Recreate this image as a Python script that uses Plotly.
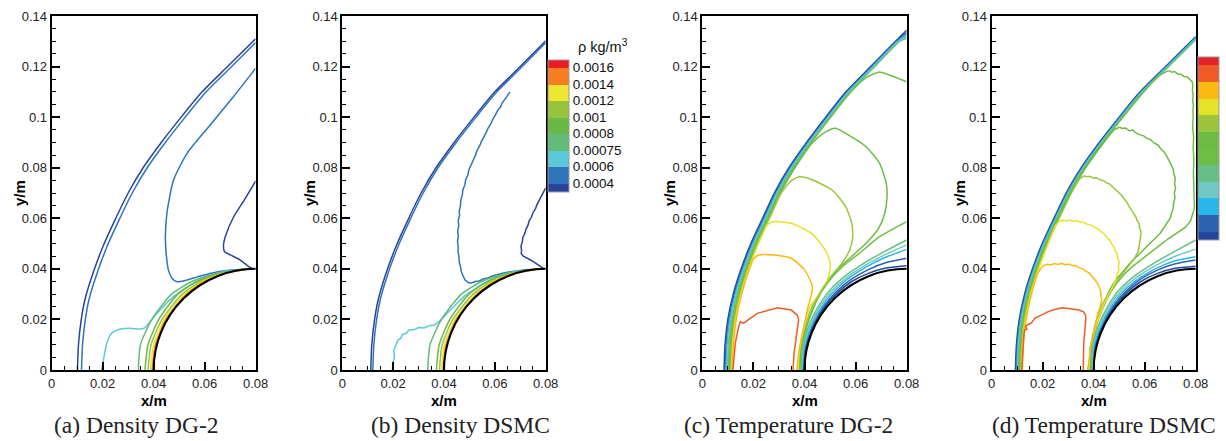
import plotly.graph_objects as go

W, H = 1226, 441

# ---------------- colour tables ----------------
den_levels = ['0.0004', '0.0006', '0.00075', '0.0008', '0.001', '0.0012', '0.0014', '0.0016']
den_colors = ['#2B449B', '#2E74BA', '#5BC9DA', '#62BB78', '#6AB845', '#97C43C', '#EFE633', '#F57F20', '#EC1C24']
tmp_colors = ['#2446A0', '#2D63AE', '#29B6E8', '#6FC8C5', '#66BF84', '#6EBE45',
              '#6CBB45', '#9BC53D', '#E5E22A', '#FDB913', '#F05A24', '#E8202A']

captions = ['(a) Density DG-2', '(b) Density DSMC', '(c) Temperature DG-2', '(d) Temperature DSMC']

# ---------------- contour lines ----------------
# Panel (a) density DG-2
a_shock1_x = [0.0101, 0.0105, 0.0116, 0.0130, 0.0168, 0.0206, 0.0248, 0.0300, 0.0358, 0.0430, 0.0508, 0.0590, 0.0690, 0.0800]
a_shock1_y = [0.000, 0.010, 0.020, 0.0277, 0.040, 0.050, 0.0593, 0.070, 0.0799, 0.090, 0.100, 0.110, 0.120, 0.1310]
a_shock2_x = [0.0117, 0.0121, 0.0132, 0.0146, 0.0184, 0.0222, 0.0264, 0.0316, 0.0374, 0.0446, 0.0524, 0.0606, 0.0706, 0.0800]
a_shock2_y = [0.000, 0.010, 0.020, 0.0277, 0.040, 0.050, 0.0593, 0.070, 0.0799, 0.090, 0.100, 0.110, 0.120, 0.1295]
a_inner_x = [0.0800, 0.0713, 0.0622, 0.0531, 0.0478, 0.0452, 0.0446, 0.0449, 0.0458, 0.0472, 0.0491, 0.0531, 0.0583, 0.0648, 0.0714, 0.0766]
a_inner_y = [0.1193, 0.1081, 0.0969, 0.0857, 0.0751, 0.0620, 0.0527, 0.0462, 0.0395, 0.0363, 0.0349, 0.0356, 0.0372, 0.0388, 0.0396, 0.0398]
a_right_x = [0.0800, 0.0757, 0.0714, 0.0681, 0.0674, 0.0678, 0.0701, 0.0740, 0.0773, 0.0790]
a_right_y = [0.0747, 0.0675, 0.0606, 0.0527, 0.0494, 0.0468, 0.0455, 0.0435, 0.0409, 0.0400]
a_cyan_x = [0.0196, 0.0203, 0.0216, 0.0235, 0.0268, 0.0307, 0.0347, 0.0366, 0.0386, 0.0425, 0.0478, 0.0543, 0.0609, 0.0674, 0.0771]
a_cyan_y = [0.000, 0.004, 0.0106, 0.0145, 0.0161, 0.0165, 0.0162, 0.0168, 0.0191, 0.0237, 0.0290, 0.0336, 0.0369, 0.0389, 0.0400]
a_g08_x = [0.0340, 0.0348, 0.0393, 0.0470, 0.0550, 0.0640, 0.0760]
a_g08_y = [0.000, 0.010, 0.020, 0.030, 0.035, 0.038, 0.0398]
a_g10_x = [0.0366, 0.0378, 0.0420, 0.0495, 0.0570, 0.0655, 0.0765]
a_g10_y = [0.000, 0.010, 0.020, 0.030, 0.035, 0.038, 0.0399]
a_g12_x = [0.0378, 0.0390, 0.0433, 0.0512, 0.0585, 0.0662, 0.0770]
a_g12_y = [0.000, 0.010, 0.020, 0.030, 0.035, 0.038, 0.0400]
a_y14_x = [0.0387, 0.0400, 0.0442, 0.0522, 0.0594, 0.0668, 0.0775]
a_y14_y = [0.000, 0.010, 0.020, 0.030, 0.035, 0.038, 0.0400]
a_o16_x = [0.0394, 0.0407, 0.0448, 0.0529, 0.0600, 0.0671, 0.0780]
a_o16_y = [0.000, 0.010, 0.020, 0.030, 0.035, 0.038, 0.0400]

# Panel (b) density DSMC
b_shock1_x = [0.0112, 0.0116, 0.0127, 0.0141, 0.0178, 0.0216, 0.0258, 0.0310, 0.0368, 0.0440, 0.0518, 0.0600, 0.0700, 0.0800]
b_shock1_y = [0.000, 0.010, 0.020, 0.0277, 0.040, 0.050, 0.0593, 0.070, 0.0799, 0.090, 0.100, 0.110, 0.120, 0.1302]
b_shock2_x = [0.0120, 0.0124, 0.0135, 0.0149, 0.0186, 0.0224, 0.0266, 0.0318, 0.0376, 0.0448, 0.0526, 0.0608, 0.0708, 0.0800]
b_shock2_y = [0.000, 0.010, 0.020, 0.0277, 0.040, 0.050, 0.0593, 0.070, 0.0799, 0.090, 0.100, 0.110, 0.120, 0.1294]
b_inner_x = [0.0660, 0.0648, 0.0640, 0.0628, 0.0622, 0.0610, 0.0602, 0.0592, 0.0585, 0.0574, 0.0566, 0.0556, 0.0548, 0.0540,
             0.0530, 0.0524, 0.0514, 0.0508, 0.0498, 0.0494, 0.0485, 0.0482, 0.0474, 0.0472, 0.0466, 0.0465, 0.0460, 0.0461,
             0.0456, 0.0458, 0.0454, 0.0456, 0.0453, 0.0456, 0.0455, 0.0459, 0.0460, 0.0465, 0.0468, 0.0475, 0.0483, 0.0495,
             0.0508, 0.0522, 0.0538, 0.0555, 0.0572, 0.0590, 0.0610, 0.0630, 0.0655, 0.0685, 0.0720, 0.0766]
b_inner_y = [0.1100, 0.1082, 0.1070, 0.1055, 0.1040, 0.1025, 0.1008, 0.0992, 0.0975, 0.0958, 0.0940, 0.0922, 0.0905, 0.0886,
             0.0868, 0.0850, 0.0830, 0.0812, 0.0792, 0.0772, 0.0752, 0.0732, 0.0712, 0.0692, 0.0672, 0.0650, 0.0630, 0.0610,
             0.0590, 0.0570, 0.0550, 0.0528, 0.0508, 0.0488, 0.0468, 0.0448, 0.0428, 0.0408, 0.0390, 0.0372, 0.0356, 0.0346,
             0.0344, 0.0350, 0.0352, 0.0360, 0.0364, 0.0372, 0.0376, 0.0383, 0.0388, 0.0393, 0.0396, 0.0398]
b_right_x = [0.0800, 0.0790, 0.0782, 0.0775, 0.0766, 0.0760, 0.0750, 0.0744, 0.0735, 0.0730, 0.0722, 0.0718, 0.0710, 0.0708,
             0.0703, 0.0705, 0.0704, 0.0712, 0.0722, 0.0735, 0.0750, 0.0765, 0.0780, 0.0792]
b_right_y = [0.0720, 0.0702, 0.0688, 0.0670, 0.0655, 0.0638, 0.0622, 0.0605, 0.0590, 0.0572, 0.0556, 0.0540, 0.0524, 0.0506,
             0.0490, 0.0472, 0.0460, 0.0450, 0.0446, 0.0438, 0.0430, 0.0420, 0.0410, 0.0401]
b_cyan_x = [0.0197, 0.0199, 0.0205, 0.0203, 0.0212, 0.0218, 0.0230, 0.0236, 0.0252, 0.0262, 0.0285, 0.0300, 0.0322, 0.0340, 0.0362, 0.0385, 0.0425, 0.0478, 0.0543, 0.0609, 0.0674, 0.0771]
b_cyan_y = [0.000, 0.003, 0.005, 0.008, 0.010, 0.0118, 0.0125, 0.0140, 0.0146, 0.0158, 0.0160, 0.0168, 0.0166, 0.0175, 0.0178, 0.0195, 0.0237, 0.0290, 0.0336, 0.0369, 0.0389, 0.0400]
b_g08_x = [0.0336, 0.0345, 0.0390, 0.0468, 0.0548, 0.0638, 0.0760]
b_g08_y = [0.000, 0.010, 0.020, 0.030, 0.035, 0.038, 0.0398]
b_g10_x = [0.0370, 0.0381, 0.0423, 0.0498, 0.0572, 0.0656, 0.0765]
b_g10_y = [0.000, 0.010, 0.020, 0.030, 0.035, 0.038, 0.0399]
b_g12_x = [0.0382, 0.0393, 0.0435, 0.0514, 0.0586, 0.0663, 0.0770]
b_g12_y = [0.000, 0.010, 0.020, 0.030, 0.035, 0.038, 0.0400]
b_y14_x = [0.0390, 0.0402, 0.0444, 0.0524, 0.0595, 0.0668, 0.0775]
b_y14_y = [0.000, 0.010, 0.020, 0.030, 0.035, 0.038, 0.0400]
b_o16_x = [0.0396, 0.0408, 0.0449, 0.0530, 0.0601, 0.0672, 0.0780]
b_o16_y = [0.000, 0.010, 0.020, 0.030, 0.035, 0.038, 0.0400]

# shock-bundle heights shared by panels (c) and (d)
sh_y = [0.000, 0.010, 0.020, 0.030, 0.040, 0.050, 0.060, 0.070, 0.080, 0.090, 0.100, 0.110, 0.120, 0.130]

# Panel (c) temperature DG-2 : shock bundle
c_t1s_x = [0.0085, 0.0089, 0.0100, 0.0121, 0.0152, 0.0190, 0.0236, 0.0282, 0.0339, 0.0408, 0.0483, 0.0562, 0.0659, 0.0756, 0.0800]
c_t1s_y = sh_y + [0.1344]
c_t2s_x = [0.0089, 0.0093, 0.0104, 0.0125, 0.0156, 0.0194, 0.0240, 0.0286, 0.0343, 0.0412, 0.0487, 0.0566, 0.0663, 0.0760, 0.0800]
c_t2s_y = sh_y + [0.1334]
c_t3s_x = [0.0093, 0.0097, 0.0108, 0.0129, 0.0160, 0.0198, 0.0244, 0.0290, 0.0347, 0.0416, 0.0491, 0.0570, 0.0667, 0.0764, 0.0800]
c_t3s_y = sh_y + [0.1326]
c_t4s_x = [0.0097, 0.0101, 0.0112, 0.0133, 0.0164, 0.0202, 0.0248, 0.0294, 0.0351, 0.0420, 0.0495, 0.0574, 0.0671, 0.0768, 0.0800]
c_t4s_y = sh_y + [0.1319]
c_t5s_x = [0.0101, 0.0105, 0.0116, 0.0137, 0.0168, 0.0206, 0.0252, 0.0298, 0.0355, 0.0424, 0.0499, 0.0578, 0.0675, 0.0772, 0.0800]
c_t5s_y = sh_y + [0.1312]
c_t6_x = [0.0105, 0.0109, 0.0120, 0.0141, 0.0172, 0.0210, 0.0256, 0.0302, 0.0359, 0.0428, 0.0503, 0.0582, 0.0640, 0.0690, 0.0745, 0.0800]
c_t6_y = [0.000, 0.010, 0.020, 0.030, 0.040, 0.050, 0.060, 0.070, 0.080, 0.090, 0.100, 0.110, 0.1155, 0.1178, 0.1162, 0.1140]
c_t7_x = [0.0109, 0.0113, 0.0124, 0.0145, 0.0176, 0.0214, 0.0260, 0.0306, 0.0363, 0.0432, 0.0480, 0.0521, 0.0561, 0.0641, 0.0694,
          0.0720, 0.0723, 0.0714, 0.0690, 0.0640, 0.0580, 0.0520, 0.0475, 0.0437, 0.0408, 0.0388, 0.0381]
c_t7_y = [0.000, 0.010, 0.020, 0.030, 0.040, 0.050, 0.060, 0.070, 0.080, 0.090, 0.0940, 0.0956, 0.0936, 0.0883, 0.0817,
          0.0738, 0.0685, 0.0619, 0.0560, 0.0500, 0.0445, 0.0390, 0.0330, 0.0250, 0.0170, 0.0085, 0.000]
c_t8_x = [0.0112, 0.0116, 0.0127, 0.0148, 0.0179, 0.0217, 0.0263, 0.0309, 0.0350, 0.0381, 0.0415, 0.0508, 0.0561, 0.0585, 0.0588,
          0.0575, 0.0545, 0.0505, 0.0463, 0.0429, 0.0403, 0.0385, 0.0378]
c_t8_y = [0.000, 0.010, 0.020, 0.030, 0.040, 0.050, 0.060, 0.070, 0.0750, 0.0764, 0.0758, 0.0712, 0.0646, 0.0580, 0.0520,
          0.0470, 0.0420, 0.0370, 0.0310, 0.0250, 0.0170, 0.0085, 0.000]
c_t9_x = [0.0115, 0.0119, 0.0130, 0.0151, 0.0182, 0.0220, 0.0255, 0.0282, 0.0348, 0.0428, 0.0481, 0.0501, 0.0494, 0.0468, 0.0421,
          0.0399, 0.0382, 0.0375]
c_t9_y = [0.000, 0.010, 0.020, 0.030, 0.040, 0.050, 0.0575, 0.0587, 0.0580, 0.0540, 0.0474, 0.0422, 0.0369, 0.0316, 0.0250,
          0.0170, 0.0085, 0.000]
c_t10_x = [0.0118, 0.0122, 0.0133, 0.0154, 0.0185, 0.0202, 0.0222, 0.0282, 0.0348, 0.0401, 0.0431, 0.0425, 0.0414, 0.0397, 0.0380, 0.0370]
c_t10_y = [0.000, 0.010, 0.020, 0.030, 0.040, 0.0442, 0.0455, 0.0455, 0.0442, 0.0395, 0.0330, 0.0290, 0.0250, 0.0170, 0.0085, 0.000]
c_t11_x = [0.0120, 0.0129, 0.0142, 0.0149, 0.0162, 0.0215, 0.0295, 0.0348, 0.0372, 0.0377, 0.0368, 0.0359, 0.0355]
c_t11_y = [0.000, 0.0105, 0.0171, 0.0191, 0.0185, 0.0224, 0.0246, 0.0237, 0.0217, 0.0198, 0.0132, 0.0066, 0.000]
# Panel (c) lines entering from the right edge and wrapping the body
c_t1b_x = [0.0800, 0.0715, 0.0650, 0.0585, 0.0530, 0.0480, 0.0433, 0.0405, 0.0397]
c_t1b_y = [0.0412, 0.0402, 0.0382, 0.0350, 0.0306, 0.0250, 0.0170, 0.0085, 0.000]
c_t2b_x = [0.0800, 0.0720, 0.0650, 0.0585, 0.0527, 0.0474, 0.0428, 0.0401, 0.0394]
c_t2b_y = [0.0442, 0.0425, 0.0397, 0.0360, 0.0312, 0.0250, 0.0168, 0.0085, 0.000]
c_t3b_x = [0.0800, 0.0720, 0.0645, 0.0580, 0.0520, 0.0467, 0.0424, 0.0398, 0.0391]
c_t3b_y = [0.0477, 0.0447, 0.0410, 0.0368, 0.0316, 0.0250, 0.0168, 0.0085, 0.000]
c_t4b_x = [0.0800, 0.0720, 0.0640, 0.0575, 0.0512, 0.0460, 0.0420, 0.0395, 0.0388]
c_t4b_y = [0.0495, 0.0458, 0.0416, 0.0373, 0.0318, 0.0250, 0.0168, 0.0085, 0.000]
c_t5b_x = [0.0800, 0.0720, 0.0640, 0.0570, 0.0505, 0.0453, 0.0415, 0.0392, 0.0385]
c_t5b_y = [0.0514, 0.0472, 0.0427, 0.0380, 0.0322, 0.0250, 0.0170, 0.0085, 0.000]
c_t6b_x = [0.0800, 0.0694, 0.0614, 0.0548, 0.0490, 0.0445, 0.0410, 0.0389, 0.0382]
c_t6b_y = [0.0587, 0.0527, 0.0461, 0.0409, 0.0345, 0.0270, 0.0180, 0.0090, 0.000]

# Panel (d) temperature DSMC : shock bundle
d_t1s_x = [0.0093, 0.0097, 0.0108, 0.0129, 0.0160, 0.0198, 0.0244, 0.0292, 0.0351, 0.0422, 0.0500, 0.0582, 0.0682, 0.0782, 0.0800]
d_t1s_y = sh_y + [0.1318]
d_t2s_x = [0.0096, 0.0100, 0.0111, 0.0132, 0.0163, 0.0201, 0.0247, 0.0295, 0.0354, 0.0425, 0.0503, 0.0585, 0.0685, 0.0785, 0.0800]
d_t2s_y = sh_y + [0.1315]
d_t3s_x = [0.0099, 0.0103, 0.0114, 0.0135, 0.0166, 0.0204, 0.0250, 0.0298, 0.0357, 0.0428, 0.0506, 0.0588, 0.0688, 0.0788, 0.0800]
d_t3s_y = sh_y + [0.1312]
d_t4s_x = [0.0102, 0.0106, 0.0117, 0.0138, 0.0169, 0.0207, 0.0253, 0.0301, 0.0360, 0.0431, 0.0509, 0.0591, 0.0691, 0.0791, 0.0800]
d_t4s_y = sh_y + [0.1309]
d_t5s_x = [0.0105, 0.0109, 0.0120, 0.0141, 0.0172, 0.0210, 0.0256, 0.0304, 0.0363, 0.0434, 0.0512, 0.0594, 0.0694, 0.0794, 0.0800]
d_t5s_y = sh_y + [0.1306]
# shock-following parts of the inner DSMC contours
d_t6s_x = [0.0108, 0.0112, 0.0123, 0.0144, 0.0175, 0.0213, 0.0259, 0.0307, 0.0366, 0.0437, 0.0515, 0.0597, 0.0650, 0.0694]
d_t6s_y = [0.000, 0.010, 0.020, 0.030, 0.040, 0.050, 0.060, 0.070, 0.080, 0.090, 0.100, 0.110, 0.1160, 0.1184]
d_t7s_x = [0.0111, 0.0115, 0.0126, 0.0147, 0.0178, 0.0216, 0.0262, 0.0310, 0.0369, 0.0440, 0.0480, 0.0501]
d_t7s_y = [0.000, 0.010, 0.020, 0.030, 0.040, 0.050, 0.060, 0.070, 0.080, 0.090, 0.0950, 0.0960]
d_t8s_x = [0.0114, 0.0118, 0.0129, 0.0150, 0.0181, 0.0219, 0.0265, 0.0313, 0.0345, 0.0361]
d_t8s_y = [0.000, 0.010, 0.020, 0.030, 0.040, 0.050, 0.060, 0.070, 0.0755, 0.0768]
d_t9s_x = [0.0117, 0.0121, 0.0132, 0.0153, 0.0184, 0.0222, 0.0250, 0.0268]
d_t9s_y = [0.000, 0.010, 0.020, 0.030, 0.040, 0.050, 0.0570, 0.0590]
d_t10s_x = [0.0120, 0.0124, 0.0135, 0.0156, 0.0180, 0.0195]
d_t10s_y = [0.000, 0.010, 0.020, 0.030, 0.0380, 0.0406]
# noisy loop parts of the inner DSMC contours
d_t6l_x = [0.0694, 0.0706, 0.0718, 0.0730, 0.0742, 0.0754, 0.0766, 0.0778, 0.0786, 0.0789, 0.0787, 0.0790, 0.0788, 0.0791,
           0.0789, 0.0790, 0.0788, 0.0792, 0.0790, 0.0793, 0.0791, 0.0795, 0.0780, 0.0760, 0.0730, 0.0694, 0.0655, 0.0614,
           0.0580, 0.0548, 0.0518, 0.0490, 0.0467, 0.0447, 0.0428, 0.0412, 0.0391, 0.0389]
d_t6l_y = [0.1184, 0.1178, 0.1180, 0.1170, 0.1170, 0.1161, 0.1160, 0.1150, 0.1140, 0.1125, 0.1105, 0.1085, 0.1065, 0.1045,
           0.1025, 0.1000, 0.0960, 0.0920, 0.0880, 0.0830, 0.0780, 0.0640, 0.0590, 0.0565, 0.0545, 0.0520, 0.0490, 0.0458,
           0.0434, 0.0406, 0.0377, 0.0343, 0.0308, 0.0270, 0.0226, 0.0180, 0.0090, 0.000]
d_t7l_x = [0.0501, 0.0512, 0.0525, 0.0540, 0.0553, 0.0568, 0.0581, 0.0596, 0.0610, 0.0622, 0.0638, 0.0652, 0.0662, 0.0676,
           0.0686, 0.0696, 0.0703, 0.0712, 0.0714, 0.0720, 0.0717, 0.0721, 0.0716, 0.0719, 0.0713, 0.0712, 0.0705, 0.0700,
           0.0680, 0.0660, 0.0630, 0.0600, 0.0570, 0.0540, 0.0515, 0.0490, 0.0470, 0.0455, 0.0437, 0.0420, 0.0408, 0.0388, 0.0386]
d_t7l_y = [0.0960, 0.0955, 0.0957, 0.0946, 0.0949, 0.0936, 0.0931, 0.0926, 0.0915, 0.0912, 0.0897, 0.0890, 0.0876, 0.0862,
           0.0847, 0.0829, 0.0812, 0.0795, 0.0776, 0.0758, 0.0738, 0.0718, 0.0700, 0.0680, 0.0660, 0.0640, 0.0620, 0.0600,
           0.0570, 0.0540, 0.0510, 0.0480, 0.0450, 0.0420, 0.0390, 0.0360, 0.0330, 0.0300, 0.0250, 0.0210, 0.0170, 0.0085, 0.000]
d_t8l_x = [0.0361, 0.0372, 0.0385, 0.0398, 0.0410, 0.0424, 0.0438, 0.0450, 0.0463, 0.0476, 0.0488, 0.0498, 0.0510, 0.0520,
           0.0530, 0.0538, 0.0548, 0.0556, 0.0565, 0.0570, 0.0578, 0.0580, 0.0586, 0.0584, 0.0580, 0.0575, 0.0562, 0.0545,
           0.0525, 0.0505, 0.0485, 0.0463, 0.0445, 0.0429, 0.0415, 0.0403, 0.0385, 0.0383]
d_t8l_y = [0.0768, 0.0764, 0.0766, 0.0759, 0.0760, 0.0752, 0.0749, 0.0740, 0.0735, 0.0722, 0.0714, 0.0700, 0.0690, 0.0676,
           0.0664, 0.0648, 0.0634, 0.0620, 0.0606, 0.0592, 0.0578, 0.0560, 0.0545, 0.0527, 0.0500, 0.0470, 0.0445, 0.0420,
           0.0395, 0.0370, 0.0340, 0.0310, 0.0280, 0.0250, 0.0210, 0.0170, 0.0085, 0.000]
d_t9l_x = [0.0268, 0.0280, 0.0293, 0.0306, 0.0320, 0.0334, 0.0348, 0.0362, 0.0376, 0.0390, 0.0404, 0.0418, 0.0430, 0.0442,
           0.0452, 0.0463, 0.0470, 0.0479, 0.0484, 0.0492, 0.0494, 0.0500, 0.0497, 0.0499, 0.0492, 0.0488, 0.0478, 0.0466,
           0.0453, 0.0440, 0.0425, 0.0410, 0.0387, 0.0380]
d_t9l_y = [0.0590, 0.0592, 0.0589, 0.0593, 0.0588, 0.0590, 0.0584, 0.0583, 0.0576, 0.0573, 0.0564, 0.0557, 0.0546, 0.0537,
           0.0524, 0.0513, 0.0499, 0.0487, 0.0472, 0.0458, 0.0442, 0.0428, 0.0410, 0.0395, 0.0378, 0.0362, 0.0336, 0.0310,
           0.0285, 0.0260, 0.0220, 0.0180, 0.0085, 0.000]
d_t10l_x = [0.0195, 0.0205, 0.0218, 0.0232, 0.0246, 0.0260, 0.0274, 0.0288, 0.0302, 0.0316, 0.0330, 0.0344, 0.0358, 0.0370,
            0.0382, 0.0392, 0.0402, 0.0410, 0.0418, 0.0422, 0.0428, 0.0428, 0.0432, 0.0428, 0.0425, 0.0415, 0.0405, 0.0390, 0.0376]
d_t10l_y = [0.0406, 0.0414, 0.0418, 0.0415, 0.0421, 0.0417, 0.0422, 0.0416, 0.0419, 0.0413, 0.0412, 0.0404, 0.0400, 0.0390,
            0.0384, 0.0372, 0.0362, 0.0350, 0.0338, 0.0324, 0.0310, 0.0294, 0.0280, 0.0264, 0.0248, 0.0220, 0.0170, 0.0100, 0.000]
d_t11_x = [0.0118, 0.0120, 0.0122, 0.0126, 0.0129, 0.0138, 0.0133, 0.0142, 0.0155, 0.0169, 0.0190, 0.0222, 0.0250, 0.0275,
           0.0300, 0.0342, 0.0360, 0.0368, 0.0369, 0.0368, 0.0364, 0.0361, 0.0359]
d_t11_y = [0.000, 0.0050, 0.0105, 0.0135, 0.0158, 0.0162, 0.0172, 0.0180, 0.0185, 0.0204, 0.0215, 0.0231, 0.0240, 0.0246,
           0.0243, 0.0237, 0.0230, 0.0217, 0.0200, 0.0185, 0.0140, 0.0105, 0.000]
d_t1b_x = [0.0800, 0.0715, 0.0650, 0.0585, 0.0530, 0.0480, 0.0434, 0.0406, 0.0399]
d_t1b_y = [0.0410, 0.0401, 0.0382, 0.0350, 0.0306, 0.0250, 0.0170, 0.0085, 0.000]
d_t2b_x = [0.0800, 0.0720, 0.0650, 0.0585, 0.0527, 0.0475, 0.0429, 0.0402, 0.0397]
d_t2b_y = [0.0435, 0.0420, 0.0395, 0.0360, 0.0312, 0.0250, 0.0168, 0.0085, 0.000]
d_t3b_x = [0.0800, 0.0720, 0.0645, 0.0580, 0.0520, 0.0468, 0.0425, 0.0399, 0.0395]
d_t3b_y = [0.0448, 0.0432, 0.0402, 0.0363, 0.0315, 0.0250, 0.0168, 0.0085, 0.000]
d_t4b_x = [0.0800, 0.0720, 0.0640, 0.0575, 0.0512, 0.0461, 0.0421, 0.0396, 0.0393]
d_t4b_y = [0.0478, 0.0450, 0.0412, 0.0371, 0.0318, 0.0250, 0.0168, 0.0085, 0.000]
d_t5b_x = [0.0800, 0.0720, 0.0640, 0.0570, 0.0505, 0.0454, 0.0416, 0.0393, 0.0391]
d_t5b_y = [0.0514, 0.0470, 0.0425, 0.0379, 0.0322, 0.0250, 0.0170, 0.0085, 0.000]

# (panel, colour table, colour index, xs, ys, smooth?)
lines = [
    ('a', 'den', 0, a_shock1_x, a_shock1_y, True), ('a', 'den', 1, a_shock2_x, a_shock2_y, True),
    ('a', 'den', 1, a_inner_x, a_inner_y, True), ('a', 'den', 0, a_right_x, a_right_y, True),
    ('a', 'den', 2, a_cyan_x, a_cyan_y, True), ('a', 'den', 3, a_g08_x, a_g08_y, True),
    ('a', 'den', 4, a_g10_x, a_g10_y, True), ('a', 'den', 5, a_g12_x, a_g12_y, True),
    ('a', 'den', 6, a_y14_x, a_y14_y, True), ('a', 'den', 7, a_o16_x, a_o16_y, True),
    ('b', 'den', 0, b_shock1_x, b_shock1_y, True), ('b', 'den', 1, b_shock2_x, b_shock2_y, True),
    ('b', 'den', 1, b_inner_x, b_inner_y, False), ('b', 'den', 0, b_right_x, b_right_y, False),
    ('b', 'den', 2, b_cyan_x, b_cyan_y, False), ('b', 'den', 3, b_g08_x, b_g08_y, True),
    ('b', 'den', 4, b_g10_x, b_g10_y, True), ('b', 'den', 5, b_g12_x, b_g12_y, True),
    ('b', 'den', 6, b_y14_x, b_y14_y, True), ('b', 'den', 7, b_o16_x, b_o16_y, True),
    ('c', 'tmp', 0, c_t1s_x, c_t1s_y, True), ('c', 'tmp', 1, c_t2s_x, c_t2s_y, True),
    ('c', 'tmp', 2, c_t3s_x, c_t3s_y, True), ('c', 'tmp', 3, c_t4s_x, c_t4s_y, True),
    ('c', 'tmp', 4, c_t5s_x, c_t5s_y, True), ('c', 'tmp', 5, c_t6_x, c_t6_y, True),
    ('c', 'tmp', 6, c_t7_x, c_t7_y, True), ('c', 'tmp', 7, c_t8_x, c_t8_y, True),
    ('c', 'tmp', 8, c_t9_x, c_t9_y, True), ('c', 'tmp', 9, c_t10_x, c_t10_y, True),
    ('c', 'tmp', 10, c_t11_x, c_t11_y, False),
    ('c', 'tmp', 0, c_t1b_x, c_t1b_y, True), ('c', 'tmp', 1, c_t2b_x, c_t2b_y, True),
    ('c', 'tmp', 2, c_t3b_x, c_t3b_y, True), ('c', 'tmp', 3, c_t4b_x, c_t4b_y, True),
    ('c', 'tmp', 4, c_t5b_x, c_t5b_y, True), ('c', 'tmp', 5, c_t6b_x, c_t6b_y, True),
    ('d', 'tmp', 0, d_t1s_x, d_t1s_y, True), ('d', 'tmp', 1, d_t2s_x, d_t2s_y, True),
    ('d', 'tmp', 2, d_t3s_x, d_t3s_y, True), ('d', 'tmp', 3, d_t4s_x, d_t4s_y, True),
    ('d', 'tmp', 4, d_t5s_x, d_t5s_y, True),
    ('d', 'tmp', 5, d_t6s_x, d_t6s_y, True), ('d', 'tmp', 5, d_t6l_x, d_t6l_y, False),
    ('d', 'tmp', 6, d_t7s_x, d_t7s_y, True), ('d', 'tmp', 6, d_t7l_x, d_t7l_y, False),
    ('d', 'tmp', 7, d_t8s_x, d_t8s_y, True), ('d', 'tmp', 7, d_t8l_x, d_t8l_y, False),
    ('d', 'tmp', 8, d_t9s_x, d_t9s_y, True), ('d', 'tmp', 8, d_t9l_x, d_t9l_y, False),
    ('d', 'tmp', 9, d_t10s_x, d_t10s_y, True), ('d', 'tmp', 9, d_t10l_x, d_t10l_y, False),
    ('d', 'tmp', 10, d_t11_x, d_t11_y, False),
    ('d', 'tmp', 0, d_t1b_x, d_t1b_y, True), ('d', 'tmp', 1, d_t2b_x, d_t2b_y, True),
    ('d', 'tmp', 2, d_t3b_x, d_t3b_y, True), ('d', 'tmp', 3, d_t4b_x, d_t4b_y, True),
    ('d', 'tmp', 4, d_t5b_x, d_t5b_y, True),
]

# ---------------- layout geometry (pixels) ----------------
panel_px = {'a': (51.7, 255.6), 'b': (342.3, 545.7), 'c': (702.3, 906.7), 'd': (991.7, 1195.7)}
plot_top, plot_bot = 16, 370
caption_cx = {'a': 136, 'b': 460, 'c': 788, 'd': 1104}
ylabel_x = {'a': 19, 'b': 309, 'c': 669, 'd': 959}
axis_ids = {'a': ('x', 'y'), 'b': ('x2', 'y2'), 'c': ('x3', 'y3'), 'd': ('x4', 'y4')}

fig = go.Figure()
tables = {'den': den_colors, 'tmp': tmp_colors}
for p, tab, ci, xs, ys, smooth in lines:
    xa, ya = axis_ids[p]
    ln = dict(color=tables[tab][ci], width=1.5, shape='spline' if smooth else 'linear')
    if smooth:
        ln['smoothing'] = 0.6
    fig.add_trace(go.Scatter(x=xs, y=ys, mode='lines', xaxis=xa, yaxis=ya, showlegend=False,
                             hoverinfo='skip', line=ln))


def discrete_scale(colors):
    n = len(colors)
    lo, hi = 0.5, n - 0.5
    bounds = [lo] + [i + 1 for i in range(n - 1)] + [hi]
    sc = []
    for i, c in enumerate(colors):
        sc.append([(bounds[i] - lo) / (hi - lo), c])
        sc.append([(bounds[i + 1] - lo) / (hi - lo), c])
    return sc, lo, hi


# density legend (panel b)
sc, lo, hi = discrete_scale(den_colors)
fig.add_trace(go.Scatter(
    x=[-1], y=[-1], xaxis='x2', yaxis='y2', mode='markers', showlegend=False, hoverinfo='skip',
    marker=dict(color=[lo], colorscale=sc, cmin=lo, cmax=hi, showscale=True, size=1,
                colorbar=dict(x=548 / W, xanchor='left', y=1 - 125.5 / H, yanchor='middle',
                              len=132.4, lenmode='pixels', thickness=21, thicknessmode='pixels',
                              xpad=0, ypad=0, outlinecolor='#9a9a9a', outlinewidth=1,
                              tickmode='array', tickvals=list(range(1, 9)), ticktext=den_levels,
                              ticks='',
                              tickfont=dict(family='Liberation Sans, Arial', size=13.5, color='#111')))))

# temperature legend (panel d)
sc2, lo2, hi2 = discrete_scale(tmp_colors)
fig.add_trace(go.Scatter(
    x=[-1], y=[-1], xaxis='x4', yaxis='y4', mode='markers', showlegend=False, hoverinfo='skip',
    marker=dict(color=[lo2], colorscale=sc2, cmin=lo2, cmax=hi2, showscale=True, size=1,
                colorbar=dict(x=1198 / W, xanchor='left', y=1 - 148.5 / H, yanchor='middle',
                              len=183, lenmode='pixels', thickness=21, thicknessmode='pixels',
                              xpad=0, ypad=0, outlinecolor='#9a9a9a', outlinewidth=1,
                              showticklabels=False, ticks=''))))

tickfont = dict(family='Liberation Sans, Arial', size=13, color='#222')
annotations = []
shapes = []
layout = dict(width=W, height=H, margin=dict(l=0, r=0, t=0, b=0, autoexpand=False),
              paper_bgcolor='white', plot_bgcolor='white', showlegend=False)
ydom = [(H - plot_bot) / H, (H - plot_top) / H]
for p in 'abcd':
    xa, ya = axis_ids[p]
    x0, x1 = panel_px[p]
    xkey = 'xaxis' if xa == 'x' else 'xaxis' + xa[1:]
    ykey = 'yaxis' if ya == 'y' else 'yaxis' + ya[1:]
    common = dict(showline=True, linecolor='black', linewidth=2, mirror=True, showgrid=False, zeroline=False,
                  ticks='inside', ticklen=8, tickwidth=2, tickcolor='black', tickfont=tickfont,
                  minor=dict(ticks='inside', ticklen=4, tickwidth=1, tickcolor='black', dtick=0.005, showgrid=False),
                  fixedrange=True)
    layout[xkey] = dict(domain=[x0 / W, x1 / W], range=[0, 0.08], tick0=0, dtick=0.02, anchor=ya, **common)
    layout[ykey] = dict(domain=ydom, range=[0, 0.14], tick0=0, dtick=0.02, anchor=xa, **common)
    shapes.append(dict(type='circle', xref=xa, yref=ya, x0=0.04, x1=0.12, y0=-0.04, y1=0.04,
                       line=dict(color='black', width=2), layer='above'))
    annotations.append(dict(text='<b>x/m</b>', x=(x0 + x1) / 2 / W, y=1 - 400 / H, xref='paper', yref='paper',
                            xanchor='center', yanchor='middle', showarrow=False,
                            font=dict(family='Liberation Sans, Arial', size=15, color='black')))
    annotations.append(dict(text='<b>y/m</b>', x=ylabel_x[p] / W, y=1 - 193 / H, xref='paper', yref='paper',
                            xanchor='center', yanchor='middle', textangle=-90, showarrow=False,
                            font=dict(family='Liberation Sans, Arial', size=15, color='black')))
for p, cap in zip('abcd', captions):
    annotations.append(dict(text=cap, x=caption_cx[p] / W, y=1 - 425 / H, xref='paper', yref='paper',
                            xanchor='center', yanchor='middle', showarrow=False,
                            font=dict(family='Liberation Serif, Times New Roman', size=23.5, color='#222')))
annotations.append(dict(text='ρ kg/m<sup>3</sup>', x=576 / W, y=1 - 46 / H, xref='paper', yref='paper',
                        xanchor='left', yanchor='middle', showarrow=False,
                        font=dict(family='Liberation Sans, Arial', size=14.5, color='#111')))
layout['annotations'] = annotations
layout['shapes'] = shapes
fig.update_layout(**layout)
fig.write_html('out.html', config={'displayModeBar': False},
               post_script="document.body.style.margin='0px';document.body.style.overflow='hidden';")
